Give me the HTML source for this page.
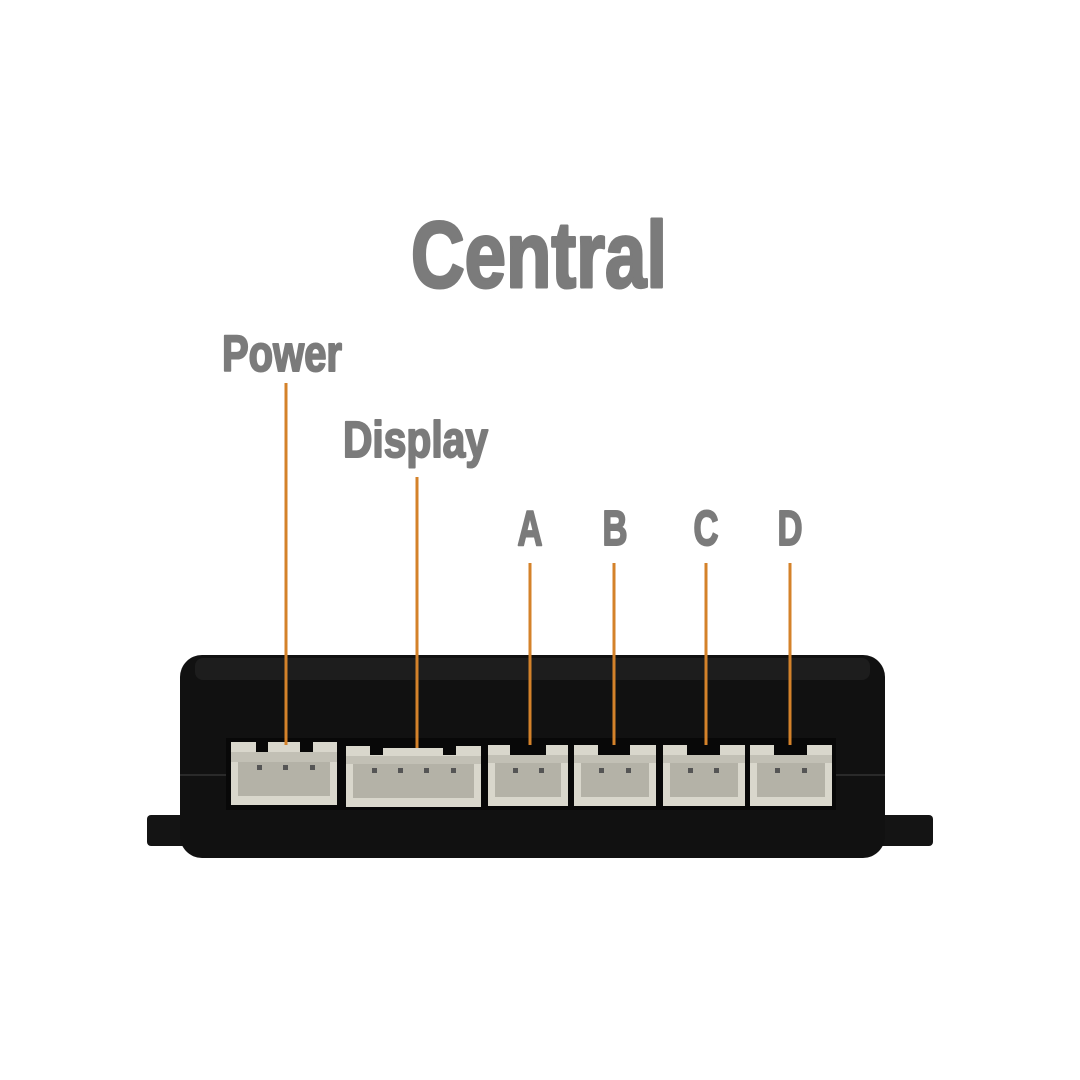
<!DOCTYPE html>
<html><head><meta charset="utf-8"><style>html,body{margin:0;padding:0;background:#fff}svg{display:block}</style></head>
<body>
<svg width="1080" height="1080" viewBox="0 0 1080 1080" xmlns="http://www.w3.org/2000/svg">
<rect width="1080" height="1080" fill="#fff"/>
<g font-family="Liberation Sans, sans-serif" font-weight="bold" fill="#7b7b7b" stroke="#7b7b7b" stroke-linejoin="round">
<text x="411" y="287" font-size="94" stroke-width="3" textLength="256" lengthAdjust="spacingAndGlyphs">Central</text>
<text x="222" y="371" font-size="51" stroke-width="2" textLength="120" lengthAdjust="spacingAndGlyphs">Power</text>
<text x="343" y="457" font-size="51" stroke-width="2" textLength="145" lengthAdjust="spacingAndGlyphs">Display</text>
<text x="530" y="545" font-size="49" stroke-width="2" text-anchor="middle" textLength="25" lengthAdjust="spacingAndGlyphs">A</text>
<text x="615" y="545" font-size="49" stroke-width="2" text-anchor="middle" textLength="25" lengthAdjust="spacingAndGlyphs">B</text>
<text x="706" y="545" font-size="49" stroke-width="2" text-anchor="middle" textLength="25" lengthAdjust="spacingAndGlyphs">C</text>
<text x="790" y="545" font-size="49" stroke-width="2" text-anchor="middle" textLength="25" lengthAdjust="spacingAndGlyphs">D</text>
</g>
<rect x="147" y="815" width="45" height="31" rx="4" fill="#141414"/>
<rect x="875" y="815" width="58" height="31" rx="4" fill="#141414"/>
<rect x="180" y="655" width="705" height="203" rx="22" fill="#111"/>
<rect x="195" y="658" width="675" height="22" rx="8" fill="#1d1d1d"/>
<line x1="180" y1="775" x2="230" y2="775" stroke="#2a2a2a" stroke-width="2"/>
<line x1="835" y1="775" x2="885" y2="775" stroke="#2a2a2a" stroke-width="2"/>
<rect x="226" y="738" width="610" height="72" fill="#080808"/>
<rect x="231" y="752" width="106" height="53" fill="#d9d7cc"/>
<rect x="238" y="762" width="92" height="34" fill="#b4b2a7"/>
<rect x="231" y="742" width="25" height="10" fill="#d9d7cc"/><rect x="268" y="742" width="32" height="10" fill="#d9d7cc"/><rect x="313" y="742" width="24" height="10" fill="#d9d7cc"/>
<rect x="231" y="752" width="106" height="10" fill="#c2c0b5"/>
<rect x="346" y="755" width="135" height="52" fill="#d9d7cc"/>
<rect x="353" y="764" width="121" height="34" fill="#b4b2a7"/>
<rect x="346" y="746" width="24" height="10" fill="#d9d7cc"/><rect x="383" y="748" width="60" height="9" fill="#d9d7cc"/><rect x="456" y="746" width="25" height="10" fill="#d9d7cc"/>
<rect x="346" y="756" width="135" height="8" fill="#c2c0b5"/>
<rect x="488" y="755" width="80" height="51" fill="#d9d7cc"/><rect x="495" y="763" width="66" height="34" fill="#b4b2a7"/>
<rect x="488" y="745" width="22" height="10" fill="#d9d7cc"/><rect x="546" y="745" width="22" height="10" fill="#d9d7cc"/><rect x="488" y="755" width="80" height="8" fill="#c2c0b5"/>
<rect x="574" y="755" width="82" height="51" fill="#d9d7cc"/><rect x="581" y="763" width="68" height="34" fill="#b4b2a7"/>
<rect x="574" y="745" width="24" height="10" fill="#d9d7cc"/><rect x="630" y="745" width="26" height="10" fill="#d9d7cc"/><rect x="574" y="755" width="82" height="8" fill="#c2c0b5"/>
<rect x="663" y="755" width="82" height="51" fill="#d9d7cc"/><rect x="670" y="763" width="68" height="34" fill="#b4b2a7"/>
<rect x="663" y="745" width="24" height="10" fill="#d9d7cc"/><rect x="720" y="745" width="25" height="10" fill="#d9d7cc"/><rect x="663" y="755" width="82" height="8" fill="#c2c0b5"/>
<rect x="750" y="755" width="82" height="51" fill="#d9d7cc"/><rect x="757" y="763" width="68" height="34" fill="#b4b2a7"/>
<rect x="750" y="745" width="24" height="10" fill="#d9d7cc"/><rect x="807" y="745" width="25" height="10" fill="#d9d7cc"/><rect x="750" y="755" width="82" height="8" fill="#c2c0b5"/>
<g fill="#555">
<rect x="257" y="765" width="5" height="5"/><rect x="283" y="765" width="5" height="5"/><rect x="310" y="765" width="5" height="5"/>
<rect x="372" y="768" width="5" height="5"/><rect x="398" y="768" width="5" height="5"/><rect x="424" y="768" width="5" height="5"/><rect x="451" y="768" width="5" height="5"/>
<rect x="513" y="768" width="5" height="5"/><rect x="539" y="768" width="5" height="5"/>
<rect x="599" y="768" width="5" height="5"/><rect x="626" y="768" width="5" height="5"/>
<rect x="688" y="768" width="5" height="5"/><rect x="714" y="768" width="5" height="5"/>
<rect x="775" y="768" width="5" height="5"/><rect x="802" y="768" width="5" height="5"/>
</g>
<g stroke="#d4822a" stroke-width="3">
<line x1="286" y1="383" x2="286" y2="745"/>
<line x1="417" y1="477" x2="417" y2="748"/>
<line x1="530" y1="563" x2="530" y2="745"/>
<line x1="614" y1="563" x2="614" y2="745"/>
<line x1="706" y1="563" x2="706" y2="745"/>
<line x1="790" y1="563" x2="790" y2="745"/>
</g>
</svg>
</body></html>
